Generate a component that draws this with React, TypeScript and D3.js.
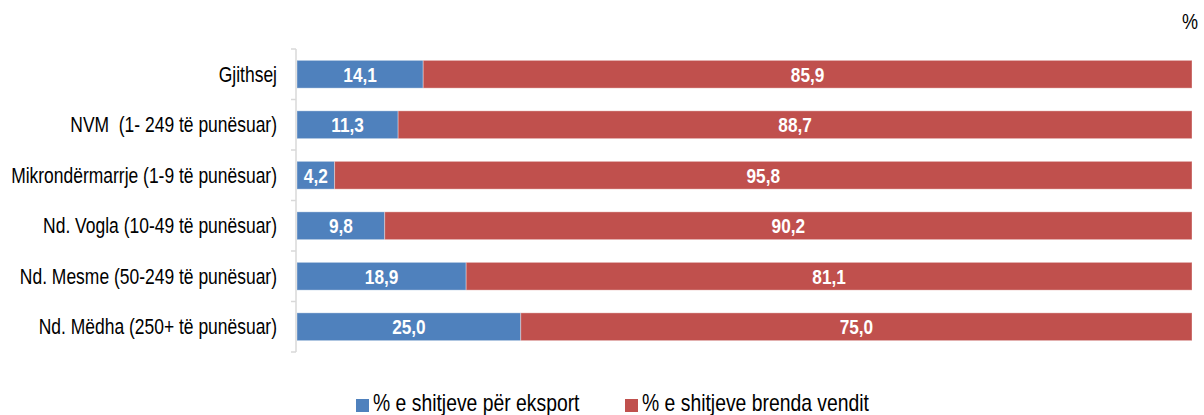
import React from "react";
import * as d3 from "d3";

const categories = [
  "Gjithsej",
  "NVM  (1- 249 të punësuar)",
  "Mikrondërmarrje (1-9 të punësuar)",
  "Nd. Vogla (10-49 të punësuar)",
  "Nd. Mesme (50-249 të punësuar)",
  "Nd. Mëdha (250+ të punësuar)",
];
const exportShare = [14.1, 11.3, 4.2, 9.8, 18.9, 25.0];
const domesticShare = [85.9, 88.7, 95.8, 90.2, 81.1, 75.0];
const seriesNames = ["% e shitjeve për eksport", "% e shitjeve brenda vendit"];
const colors = ["#4F81BD", "#C0504D"];
const unitLabel = "%";

const W = 1204;
const H = 415;
const FONT = "'Liberation Sans', Arial, sans-serif";
const NARROW = 0.82;

type NProps = {
  x: number;
  y: number;
  anchor?: "start" | "middle" | "end";
  size: number;
  bold?: boolean;
  fill?: string;
  dy?: string;
  children: React.ReactNode;
};

function NText({ x, y, anchor = "start", size, bold, fill = "#000", dy, children }: NProps) {
  return (
    <text
      transform={`translate(${x},${y}) scale(${NARROW},1)`}
      textAnchor={anchor}
      fontSize={size}
      fontWeight={bold ? "bold" : "normal"}
      fill={fill}
      dy={dy}
      style={{ whiteSpace: "pre" }}
    >
      {children}
    </text>
  );
}

export default function App() {
  const x = d3.scaleLinear().domain([0, 100]).range([297, 1192]);
  const y = d3
    .scaleBand<string>()
    .domain(categories)
    .range([49, 352])
    .paddingInner(0.45)
    .paddingOuter(0.225);
  const step = y.step();
  const top = y.range()[0];
  const boundaries = d3.range(categories.length + 1).map((i) => top + i * step);
  const fmt = (v: number) => v.toFixed(1).replace(".", ",");

  const series = [exportShare, domesticShare];

  return (
    <svg
      width={W}
      height={H}
      style={{ position: "absolute", left: 0, top: 0, background: "#fff" }}
      fontFamily={FONT}
    >
      {/* bars */}
      {categories.map((c, i) => {
        let acc = 0;
        return (
          <g key={c}>
            {series.map((s, k) => {
              const x0 = x(acc);
              acc += s[i];
              const x1 = x(acc);
              return (
                <g key={k}>
                  <rect
                    x={x0}
                    y={y(c)!}
                    width={x1 - x0}
                    height={y.bandwidth()}
                    fill={colors[k]}
                    stroke="#fff"
                    strokeOpacity={0.35}
                    strokeWidth={1}
                  />
                  <NText
                    x={(x0 + x1) / 2}
                    y={y(c)! + y.bandwidth() / 2}
                    dy="0.36em"
                    anchor="middle"
                    fill="#fff"
                    bold
                    size={21}
                  >
                    {fmt(s[i])}
                  </NText>
                </g>
              );
            })}
          </g>
        );
      })}

      {/* axis */}
      <line x1={296} x2={296} y1={top} y2={top + step * categories.length} stroke="#d9d9d9" strokeWidth={1.5} />
      {boundaries.map((b, i) => (
        <line key={i} x1={291} x2={296} y1={b} y2={b} stroke="#d9d9d9" strokeWidth={1.5} />
      ))}

      {/* category labels */}
      {categories.map((c) => (
        <NText key={c} x={277} y={y(c)! + y.bandwidth() / 2} dy="0.36em" anchor="end" size={21.3}>
          {c}
        </NText>
      ))}

      {/* unit */}
      <NText x={1198} y={29} anchor="end" size={22}>
        {unitLabel}
      </NText>

      {/* legend */}
      {seriesNames.map((n, k) => {
        const lx = [356, 625][k];
        return (
          <g key={n}>
            <rect x={lx} y={399} width={13} height={13} fill={colors[k]} />
            <NText x={lx + 17} y={411} size={23.6}>
              {n}
            </NText>
          </g>
        );
      })}
    </svg>
  );
}
